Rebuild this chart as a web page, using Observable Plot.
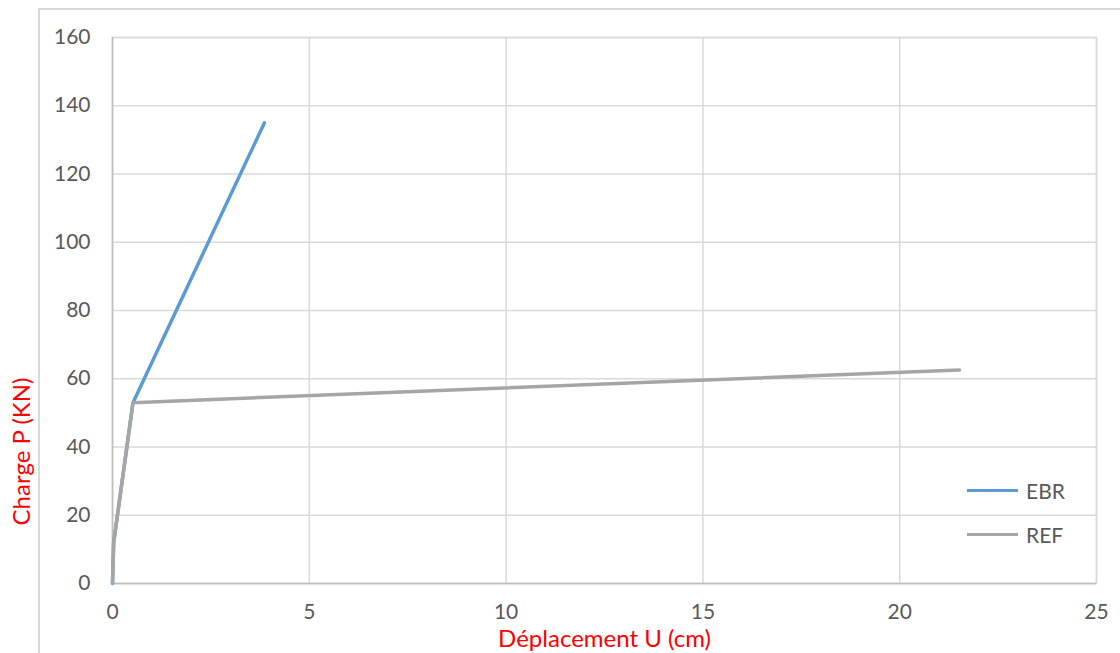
<!DOCTYPE html>
<html>
<head>
<meta charset="utf-8">
<script src="https://cdn.jsdelivr.net/npm/d3@7"></script>
<script src="https://cdn.jsdelivr.net/npm/@observablehq/plot@0.6"></script>
<style>
  html, body { margin: 0; padding: 0; background: #fff; overflow: hidden; }
  #wrap { position: relative; width: 1120px; height: 653px; font-family: Lato, "Open Sans", sans-serif; }
  #outer { position: absolute; left: 38px; top: 8px; width: 1200px; height: 700px;
           border-left: 2px solid #d9d9d9; border-top: 2px solid #d9d9d9; }
  #chart { position: absolute; left: 0; top: 0; }
  .legend { position: absolute; left: 967px; color: #595959; font-size: 21px; display: flex; align-items: center; }
  .legend .sw { width: 51px; height: 3.5px; margin-right: 8px; }
</style>
</head>
<body>
<div id="wrap">
  <div id="outer"></div>
  <div id="chart"></div>
  <div class="legend" style="top:478px"><span class="sw" style="background:#5b9bd5"></span>EBR</div>
  <div class="legend" style="top:522px"><span class="sw" style="background:#a5a5a5"></span>REF</div>
</div>
<script>
// Load–displacement curves: displacement U (cm) vs load P (kN)
const ebrU = [0, 0.03, 0.52, 3.86];
const ebrP = [0, 12, 53, 135];
const refU = [0, 0.03, 0.52, 21.52];
const refP = [0, 12, 53, 62.6];

const xTicks = [0, 5, 10, 15, 20, 25];
const yTicks = [0, 20, 40, 60, 80, 100, 120, 140, 160];

const ebr = ebrU.map((u, i) => ({u, p: ebrP[i]}));
const ref = refU.map((u, i) => ({u, p: refP[i]}));

const chart = Plot.plot({
  width: 1120,
  height: 653,
  marginLeft: 112,
  marginRight: 24,
  marginTop: 37,
  marginBottom: 70,
  style: {fontFamily: "Lato, 'Open Sans', sans-serif", fontSize: "21px", color: "#595959", background: "transparent"},
  x: {domain: [0, 25]},
  y: {domain: [0, 160]},
  marks: [
    Plot.gridX(xTicks, {stroke: "#d9d9d9", strokeOpacity: 1, strokeWidth: 1.5}),
    Plot.gridY(yTicks, {stroke: "#d9d9d9", strokeOpacity: 1, strokeWidth: 1.5}),
    Plot.frame({stroke: "#d9d9d9", strokeWidth: 1.5}),
    Plot.ruleY([0], {stroke: "#bfbfbf", strokeWidth: 1.5}),
    Plot.ruleX([0], {stroke: "#bfbfbf", strokeWidth: 1.5}),
    Plot.axisX({ticks: xTicks, tickSize: 0, tickPadding: 21, label: null, fontSize: 21}),
    Plot.axisY({ticks: yTicks, tickSize: 0, tickPadding: 22, label: null, fontSize: 21}),
    Plot.line(ebr, {x: "u", y: "p", stroke: "#5b9bd5", strokeWidth: 3.5}),
    Plot.line(ref, {x: "u", y: "p", stroke: "#a5a5a5", strokeWidth: 3.5}),
    Plot.text(["Charge P (KN)"], {frameAnchor: "left", textAnchor: "middle", lineAnchor: "middle",
      rotate: -90, dx: -90, dy: 141, fill: "#ff0000", fontSize: 24}),
    Plot.text(["Déplacement U (cm)"], {frameAnchor: "bottom", textAnchor: "middle", lineAnchor: "middle",
      dy: 56, fill: "#ff0000", fontSize: 24})
  ]
});
document.getElementById("chart").appendChild(chart);
</script>
</body>
</html>
